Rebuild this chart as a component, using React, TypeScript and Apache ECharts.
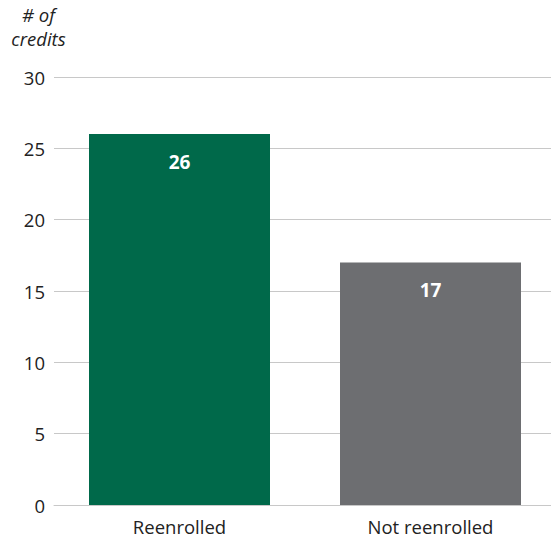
import React, { useEffect, useRef } from "react";
import * as echarts from "echarts";

const categories = ["Reenrolled", "Not reenrolled"];
const values = [26, 17];
const colors = ["#00694a", "#6d6e71"];
const yTicks = { min: 0, max: 30, interval: 5 };

export default function App() {
  const ref = useRef<HTMLDivElement>(null);
  useEffect(() => {
    const chart = echarts.init(ref.current!, null, { renderer: "svg" });
    chart.setOption({
      animation: false,
      textStyle: { fontFamily: "Open Sans" },
      grid: { left: 54, right: 0, top: 77, bottom: 36 },
      graphic: [
        {
          type: "text",
          x: 38.5,
          y: 2,
          style: {
            text: "# of\ncredits",
            font: "italic 18.5px 'Open Sans'",
            fill: "#222",
            align: "center",
            lineHeight: 24,
          },
        },
      ],
      xAxis: {
        type: "category",
        data: categories,
        axisTick: { show: false },
        axisLine: { lineStyle: { color: "#c8c8c8", width: 1 } },
        axisLabel: { color: "#222", fontSize: 18.5, margin: 12 },
      },
      yAxis: {
        type: "value",
        min: yTicks.min,
        max: yTicks.max,
        interval: yTicks.interval,
        axisLine: { show: false },
        axisTick: { show: false },
        splitLine: { lineStyle: { color: "#c8c8c8", width: 1 } },
        axisLabel: { color: "#222", fontSize: 18.5, margin: 9 },
      },
      series: [
        {
          type: "bar",
          barWidth: 181,
          data: values.map((v, i) => ({ value: v, itemStyle: { color: colors[i] } })),
          label: {
            show: true,
            position: "insideTop",
            distance: 18,
            color: "#fff",
            fontWeight: "bold",
            fontSize: 19,
          },
        },
      ],
    });
    return () => chart.dispose();
  }, []);
  return (
    <div
      style={{
        position: "absolute",
        left: 0,
        top: 0,
        width: 551,
        height: 541,
        overflow: "hidden",
      }}
    >
      <div ref={ref} style={{ width: 556, height: 541 }} />
    </div>
  );
}
